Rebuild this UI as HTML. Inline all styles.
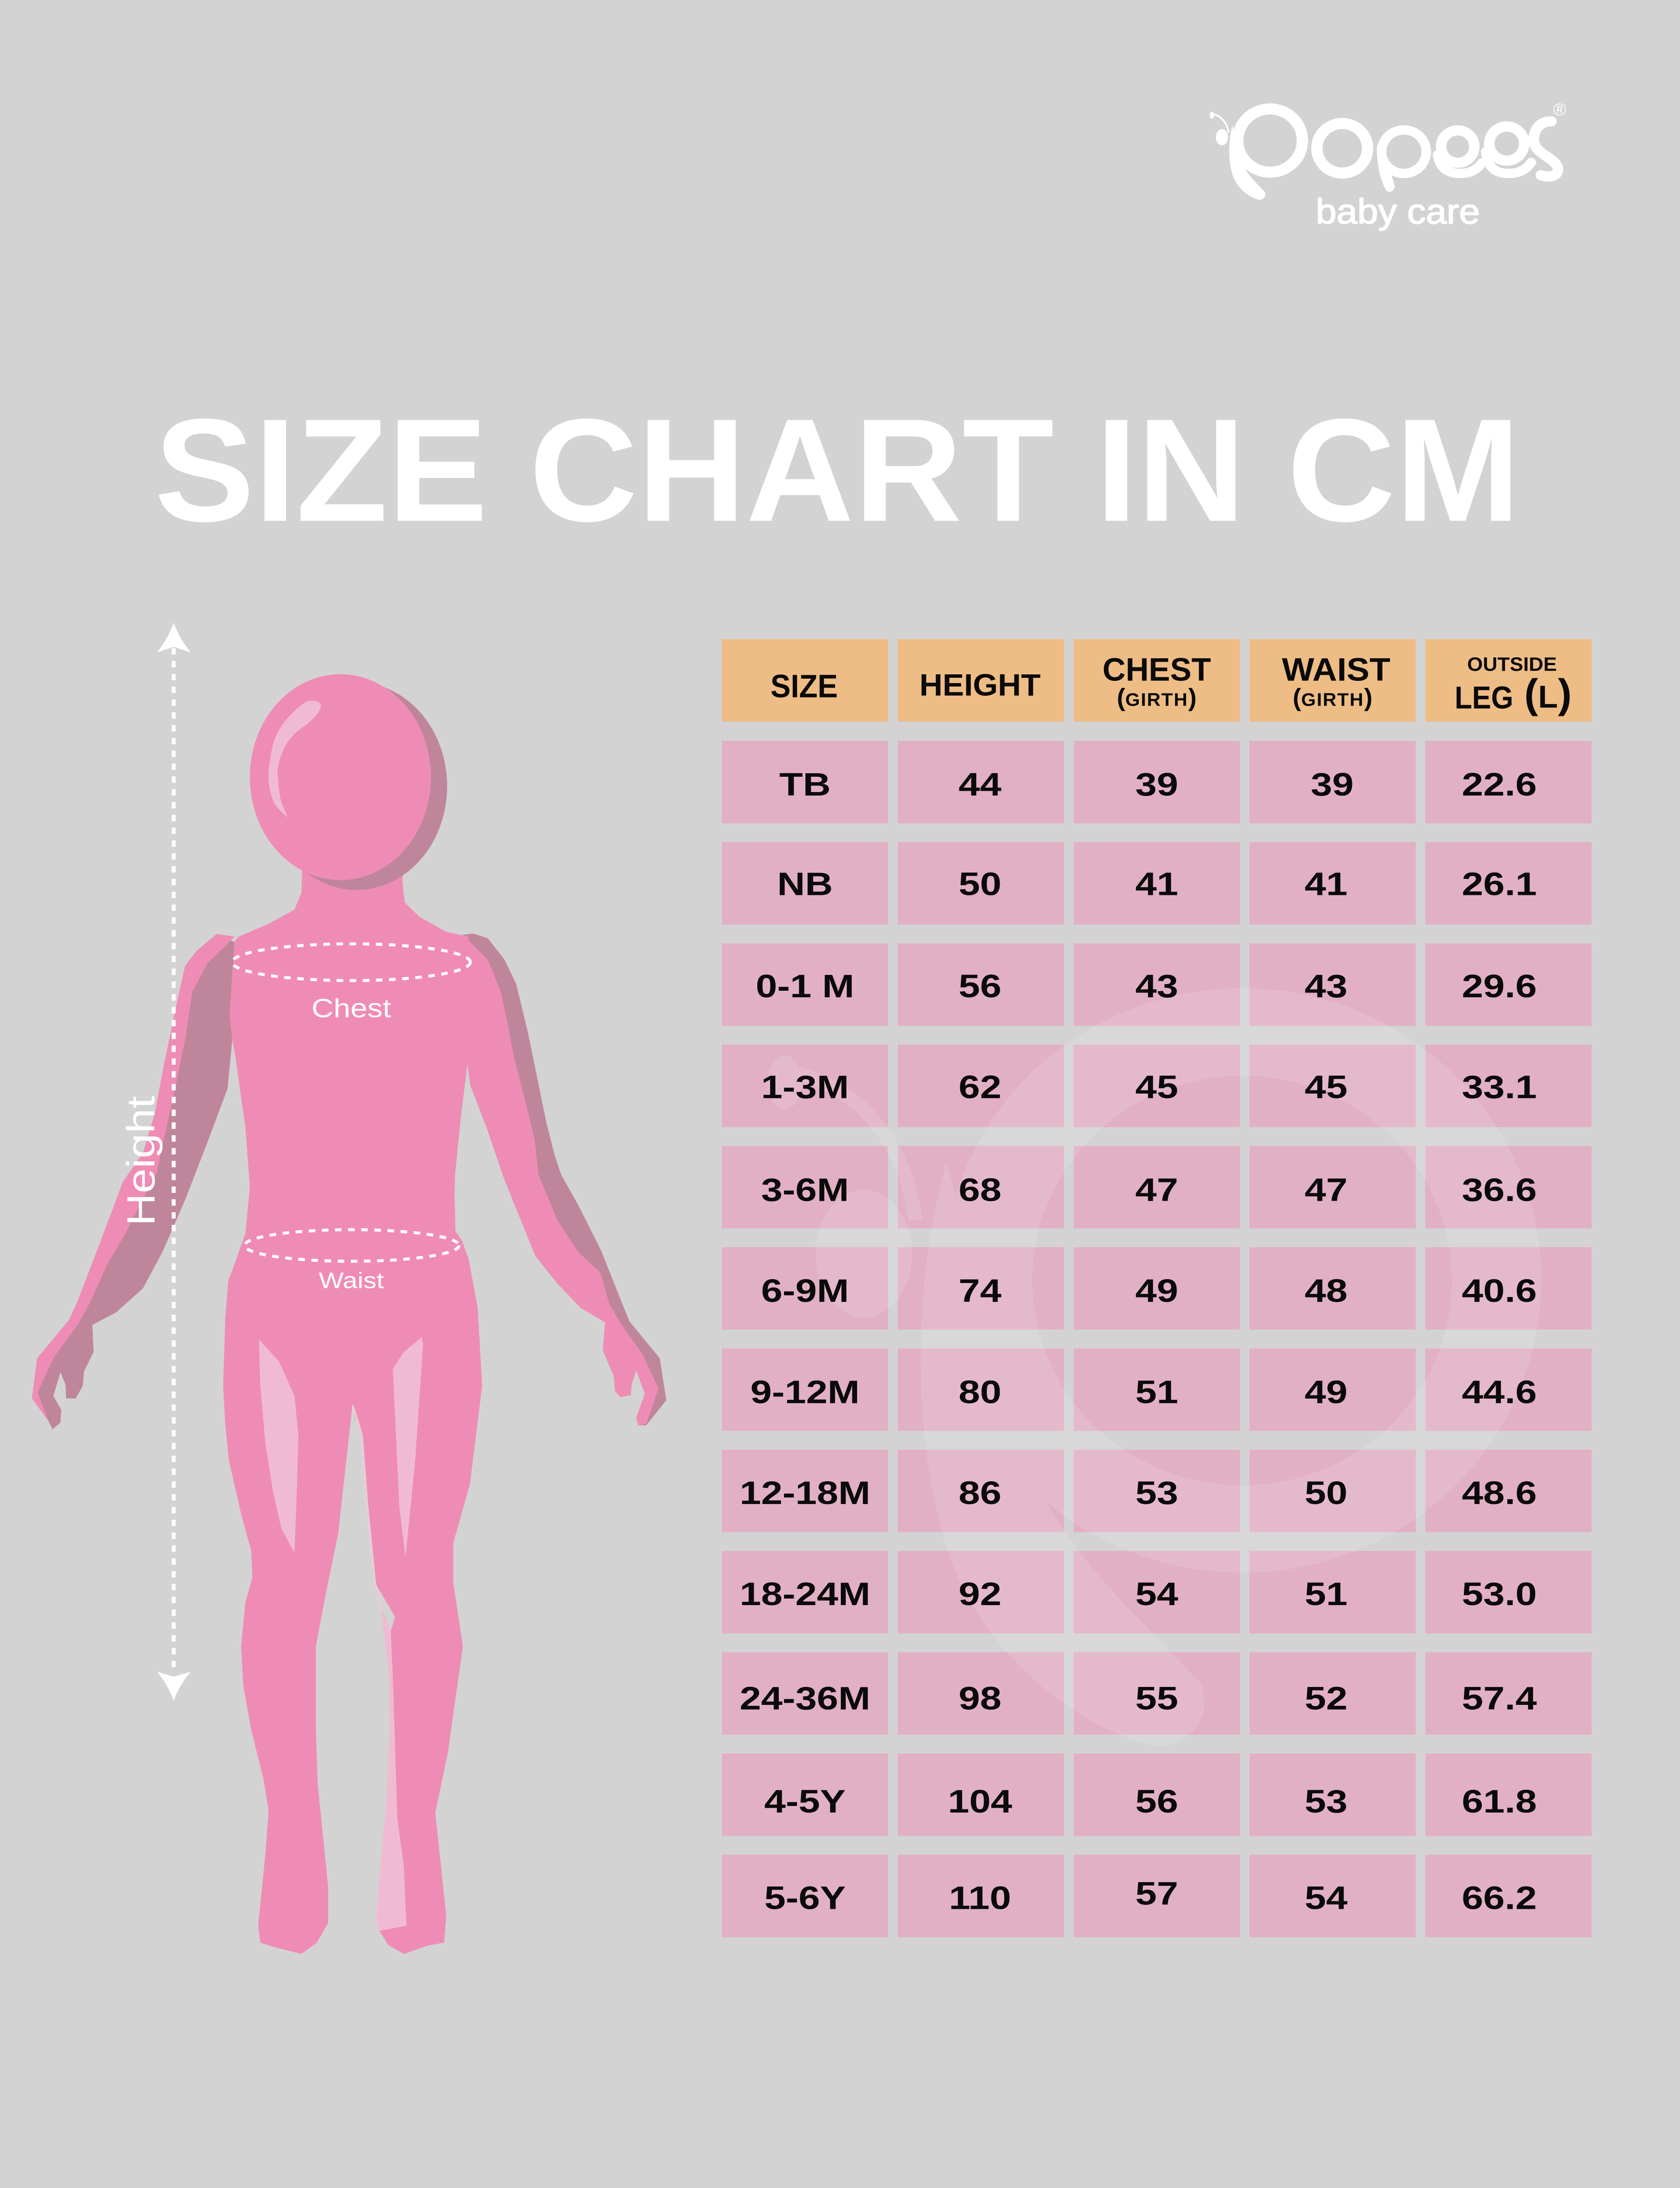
<!DOCTYPE html>
<html><head><meta charset="utf-8"><style>
html,body{margin:0;padding:0;background:#d3d3d3;width:100%;height:100%;overflow:hidden;}
svg{display:block;position:absolute;left:0;top:0;width:100vw;height:100vh;}
text{font-family:"Liberation Sans",sans-serif;}
</style></head><body>
<svg xmlns="http://www.w3.org/2000/svg" viewBox="0 0 3840 5121" preserveAspectRatio="none">
<defs>
<g id="pmark">
<circle cx="0" cy="0" r="74" fill="none" stroke="#fff" stroke-width="26"/>
<path d="M -86,-35 C -96,0 -97,55 -82,90 C -70,115 -48,132 -28,138 C -16,141 -8,130 -12,120 C -30,100 -48,85 -60,60 Z" fill="#fff"/>
<ellipse cx="-110" cy="-8" rx="14" ry="19" fill="#fff"/>
<path d="M -95,-18 C -98,-42 -112,-58 -131,-62" fill="none" stroke="#fff" stroke-width="4"/>
<ellipse cx="-133" cy="-59" rx="5" ry="8" fill="#fff"/>
</g>
</defs>
<rect x="0" y="0" width="3840" height="5121" fill="#d3d3d3"/>

<!-- Logo -->
<use href="#pmark" transform="translate(2903,329)"/>
<circle cx="3068" cy="347" r="58" fill="none" stroke="#fff" stroke-width="26"/>
<circle cx="3209" cy="355" r="51" fill="none" stroke="#fff" stroke-width="22"/>
<path d="M 3147,340 C 3147,390 3155,420 3168,445 C 3172,452 3186,450 3188,437 C 3185,420 3178,405 3175,392 Z" fill="#fff"/>
<circle cx="3332" cy="343" r="38" fill="none" stroke="#fff" stroke-width="24"/>
<path d="M 3286,362 C 3290,395 3312,406 3338,406 C 3362,406 3378,395 3386,382" fill="none" stroke="#fff" stroke-width="22" stroke-linecap="round"/>
<circle cx="3444" cy="336" r="40" fill="none" stroke="#fff" stroke-width="24"/>
<path d="M 3396,355 C 3400,395 3422,406 3448,406 C 3474,406 3490,395 3500,380" fill="none" stroke="#fff" stroke-width="22" stroke-linecap="round"/>
<path d="M 3546,284 C 3515,284 3502,310 3507,335 C 3512,360 3550,368 3560,390 C 3566,410 3545,418 3522,410" fill="none" stroke="#fff" stroke-width="24" stroke-linecap="round"/>
<text x="3565" y="270" font-size="40" fill="#fff" text-anchor="middle">®</text>
<text x="3195" y="523" font-size="82" fill="#fff" stroke="#fff" stroke-width="2" text-anchor="middle" textLength="375" lengthAdjust="spacingAndGlyphs">baby care</text>

<!-- Title -->
<text x="353" y="1219" font-size="343" font-weight="bold" fill="#fff" textLength="3122" lengthAdjust="spacingAndGlyphs">SIZE CHART IN CM</text>

<!-- Table header -->
<g fill="#eebd86">
<rect x="1650" y="1496" width="380" height="193"/>
<rect x="2052" y="1496" width="380" height="193"/>
<rect x="2454" y="1496" width="380" height="193"/>
<rect x="2856" y="1496" width="380" height="193"/>
<rect x="3258" y="1496" width="380" height="193"/>
</g>
<!-- Table body cells -->
<g fill="#e2b0c5">
<rect x="1650" y="1734" width="380" height="193"/><rect x="2052" y="1734" width="380" height="193"/><rect x="2454" y="1734" width="380" height="193"/><rect x="2856" y="1734" width="380" height="193"/><rect x="3258" y="1734" width="380" height="193"/>
<rect x="1650" y="1971" width="380" height="193"/><rect x="2052" y="1971" width="380" height="193"/><rect x="2454" y="1971" width="380" height="193"/><rect x="2856" y="1971" width="380" height="193"/><rect x="3258" y="1971" width="380" height="193"/>
<rect x="1650" y="2208" width="380" height="193"/><rect x="2052" y="2208" width="380" height="193"/><rect x="2454" y="2208" width="380" height="193"/><rect x="2856" y="2208" width="380" height="193"/><rect x="3258" y="2208" width="380" height="193"/>
<rect x="1650" y="2445" width="380" height="193"/><rect x="2052" y="2445" width="380" height="193"/><rect x="2454" y="2445" width="380" height="193"/><rect x="2856" y="2445" width="380" height="193"/><rect x="3258" y="2445" width="380" height="193"/>
<rect x="1650" y="2682" width="380" height="193"/><rect x="2052" y="2682" width="380" height="193"/><rect x="2454" y="2682" width="380" height="193"/><rect x="2856" y="2682" width="380" height="193"/><rect x="3258" y="2682" width="380" height="193"/>
<rect x="1650" y="2919" width="380" height="193"/><rect x="2052" y="2919" width="380" height="193"/><rect x="2454" y="2919" width="380" height="193"/><rect x="2856" y="2919" width="380" height="193"/><rect x="3258" y="2919" width="380" height="193"/>
<rect x="1650" y="3156" width="380" height="193"/><rect x="2052" y="3156" width="380" height="193"/><rect x="2454" y="3156" width="380" height="193"/><rect x="2856" y="3156" width="380" height="193"/><rect x="3258" y="3156" width="380" height="193"/>
<rect x="1650" y="3393" width="380" height="193"/><rect x="2052" y="3393" width="380" height="193"/><rect x="2454" y="3393" width="380" height="193"/><rect x="2856" y="3393" width="380" height="193"/><rect x="3258" y="3393" width="380" height="193"/>
<rect x="1650" y="3630" width="380" height="193"/><rect x="2052" y="3630" width="380" height="193"/><rect x="2454" y="3630" width="380" height="193"/><rect x="2856" y="3630" width="380" height="193"/><rect x="3258" y="3630" width="380" height="193"/>
<rect x="1650" y="3867" width="380" height="193"/><rect x="2052" y="3867" width="380" height="193"/><rect x="2454" y="3867" width="380" height="193"/><rect x="2856" y="3867" width="380" height="193"/><rect x="3258" y="3867" width="380" height="193"/>
<rect x="1650" y="4104" width="380" height="193"/><rect x="2052" y="4104" width="380" height="193"/><rect x="2454" y="4104" width="380" height="193"/><rect x="2856" y="4104" width="380" height="193"/><rect x="3258" y="4104" width="380" height="193"/>
<rect x="1650" y="4341" width="380" height="193"/><rect x="2052" y="4341" width="380" height="193"/><rect x="2454" y="4341" width="380" height="193"/><rect x="2856" y="4341" width="380" height="193"/><rect x="3258" y="4341" width="380" height="193"/>
</g>

<!-- Watermark -->
<g opacity="0.12">
<use href="#pmark" transform="translate(2839,2997) scale(7.86)"/>
</g>

<!-- Header text -->
<g fill="#0a0a0a" font-weight="bold">
<text x="1838" y="1632" font-size="76" text-anchor="middle" textLength="154" lengthAdjust="spacingAndGlyphs">SIZE</text>
<text x="2240" y="1628" font-size="72" text-anchor="middle" textLength="277" lengthAdjust="spacingAndGlyphs">HEIGHT</text>
<text x="2644" y="1593" font-size="76" text-anchor="middle" textLength="248" lengthAdjust="spacingAndGlyphs">CHEST</text>
<text x="2644" y="1652" text-anchor="middle"><tspan font-size="58">(</tspan><tspan font-size="43" letter-spacing="2">GIRTH</tspan><tspan font-size="58">)</tspan></text>
<text x="3054" y="1593" font-size="76" text-anchor="middle" textLength="248" lengthAdjust="spacingAndGlyphs">WAIST</text>
<text x="3046" y="1652" text-anchor="middle"><tspan font-size="58">(</tspan><tspan font-size="43" letter-spacing="2">GIRTH</tspan><tspan font-size="58">)</tspan></text>
<text x="3456" y="1570" font-size="46" text-anchor="middle" textLength="205" lengthAdjust="spacingAndGlyphs">OUTSIDE</text>
<text x="3325" y="1658" font-size="74" textLength="134" lengthAdjust="spacingAndGlyphs">LEG</text>
<text x="3484" y="1656"><tspan font-size="95">(</tspan><tspan font-size="74">L</tspan><tspan font-size="95">)</tspan></text>
</g>

<!-- Body text -->
<g fill="#0a0a0a" font-weight="bold" font-size="76" text-anchor="middle">
<g transform="translate(1840,1862) scale(1.16,1)"><text>TB</text></g>
<g transform="translate(2240,1862) scale(1.16,1)"><text>44</text></g>
<g transform="translate(2644,1862) scale(1.16,1)"><text>39</text></g>
<g transform="translate(3045,1862) scale(1.16,1)"><text>39</text></g>
<g transform="translate(3427,1862) scale(1.16,1)"><text>22.6</text></g>

<g transform="translate(1840,2095) scale(1.16,1)"><text>NB</text></g>
<g transform="translate(2240,2095) scale(1.16,1)"><text>50</text></g>
<g transform="translate(2644,2095) scale(1.16,1)"><text>41</text></g>
<g transform="translate(3031,2095) scale(1.16,1)"><text>41</text></g>
<g transform="translate(3427,2095) scale(1.16,1)"><text>26.1</text></g>

<g transform="translate(1840,2334) scale(1.16,1)"><text>0-1 M</text></g>
<g transform="translate(2240,2334) scale(1.16,1)"><text>56</text></g>
<g transform="translate(2644,2334) scale(1.16,1)"><text>43</text></g>
<g transform="translate(3031,2334) scale(1.16,1)"><text>43</text></g>
<g transform="translate(3427,2334) scale(1.16,1)"><text>29.6</text></g>

<g transform="translate(1840,2570) scale(1.16,1)"><text>1-3M</text></g>
<g transform="translate(2240,2570) scale(1.16,1)"><text>62</text></g>
<g transform="translate(2644,2570) scale(1.16,1)"><text>45</text></g>
<g transform="translate(3031,2570) scale(1.16,1)"><text>45</text></g>
<g transform="translate(3427,2570) scale(1.16,1)"><text>33.1</text></g>

<g transform="translate(1840,2811) scale(1.16,1)"><text>3-6M</text></g>
<g transform="translate(2240,2811) scale(1.16,1)"><text>68</text></g>
<g transform="translate(2644,2811) scale(1.16,1)"><text>47</text></g>
<g transform="translate(3031,2811) scale(1.16,1)"><text>47</text></g>
<g transform="translate(3427,2811) scale(1.16,1)"><text>36.6</text></g>

<g transform="translate(1840,3047) scale(1.16,1)"><text>6-9M</text></g>
<g transform="translate(2240,3047) scale(1.16,1)"><text>74</text></g>
<g transform="translate(2644,3047) scale(1.16,1)"><text>49</text></g>
<g transform="translate(3031,3047) scale(1.16,1)"><text>48</text></g>
<g transform="translate(3427,3047) scale(1.16,1)"><text>40.6</text></g>

<g transform="translate(1840,3284) scale(1.16,1)"><text>9-12M</text></g>
<g transform="translate(2240,3284) scale(1.16,1)"><text>80</text></g>
<g transform="translate(2644,3284) scale(1.16,1)"><text>51</text></g>
<g transform="translate(3031,3284) scale(1.16,1)"><text>49</text></g>
<g transform="translate(3427,3284) scale(1.16,1)"><text>44.6</text></g>

<g transform="translate(1840,3520) scale(1.16,1)"><text>12-18M</text></g>
<g transform="translate(2240,3520) scale(1.16,1)"><text>86</text></g>
<g transform="translate(2644,3520) scale(1.16,1)"><text>53</text></g>
<g transform="translate(3031,3520) scale(1.16,1)"><text>50</text></g>
<g transform="translate(3427,3520) scale(1.16,1)"><text>48.6</text></g>

<g transform="translate(1840,3757) scale(1.16,1)"><text>18-24M</text></g>
<g transform="translate(2240,3757) scale(1.16,1)"><text>92</text></g>
<g transform="translate(2644,3757) scale(1.16,1)"><text>54</text></g>
<g transform="translate(3031,3757) scale(1.16,1)"><text>51</text></g>
<g transform="translate(3427,3757) scale(1.16,1)"><text>53.0</text></g>

<g transform="translate(1840,4001) scale(1.16,1)"><text>24-36M</text></g>
<g transform="translate(2240,4001) scale(1.16,1)"><text>98</text></g>
<g transform="translate(2644,4001) scale(1.16,1)"><text>55</text></g>
<g transform="translate(3031,4001) scale(1.16,1)"><text>52</text></g>
<g transform="translate(3427,4001) scale(1.16,1)"><text>57.4</text></g>

<g transform="translate(1840,4242) scale(1.16,1)"><text>4-5Y</text></g>
<g transform="translate(2240,4242) scale(1.16,1)"><text>104</text></g>
<g transform="translate(2644,4242) scale(1.16,1)"><text>56</text></g>
<g transform="translate(3031,4242) scale(1.16,1)"><text>53</text></g>
<g transform="translate(3427,4242) scale(1.16,1)"><text>61.8</text></g>

<g transform="translate(1840,4468) scale(1.16,1)"><text>5-6Y</text></g>
<g transform="translate(2240,4468) scale(1.16,1)"><text>110</text></g>
<g transform="translate(2644,4458) scale(1.16,1)"><text>57</text></g>
<g transform="translate(3031,4468) scale(1.16,1)"><text>54</text></g>
<g transform="translate(3427,4468) scale(1.16,1)"><text>66.2</text></g>
</g>

<!-- Figure: left arm -->
<path fill="#bf869b" d="M 495,2186 L 449,2226 L 423,2261 L 403,2353 L 374,2496 L 354,2605 L 327,2698 L 281,2766 L 224,2921 L 176,3049 L 158,3089 L 85,3179 L 73,3273 L 110,3325 L 120,3345 L 138,3330 L 140,3300 L 122,3267 L 138,3212 L 150,3241 L 151,3273 L 173,3273 L 189,3244 L 192,3210 L 214,3164 L 211,3101 L 265,3072 L 327,3015 L 372,2929 L 424,2806 L 474,2674 L 520,2548 L 531,2433 L 525,2376 L 536,2205 Z"/>
<path fill="#ef8cb5" d="M 495,2186 L 449,2226 L 423,2261 L 403,2353 L 374,2496 L 354,2605 L 327,2698 L 281,2766 L 224,2921 L 176,3049 L 158,3089 L 85,3179 L 73,3273 L 110,3325 L 86,3259 L 124,3175 L 178,3100 L 205,3050 L 245,2960 L 290,2880 L 330,2800 L 358,2745 L 378,2650 L 400,2548 L 423,2433 L 440,2320 L 474,2255 L 525,2204 L 536,2192 Z"/>
<!-- right arm -->
<path fill="#bf869b" d="M 1057,2188 L 1082,2185 L 1115,2196 L 1153,2246 L 1180,2303 L 1207,2418 L 1230,2533 L 1249,2628 L 1268,2705 L 1283,2750 L 1323,2823 L 1374,2927 L 1423,3053 L 1439,3093 L 1508,3179 L 1523,3277 L 1477,3336 L 1459,3336 L 1454,3319 L 1474,3262 L 1454,3207 L 1444,3239 L 1442,3265 L 1418,3270 L 1406,3256 L 1403,3221 L 1378,3161 L 1383,3095 L 1327,3061 L 1273,3003 L 1224,2940 L 1173,2812 L 1149,2750 L 1115,2647 L 1075,2540 L 1069,2494 L 1069,2410 L 1071,2204 Z"/>
<path fill="#ef8cb5" d="M 1057,2188 L 1074,2204 L 1115,2246 L 1145,2322 L 1161,2399 L 1174,2471 L 1199,2571 L 1222,2667 L 1231,2750 L 1275,2858 L 1323,2932 L 1372,2978 L 1393,3053 L 1420,3100 L 1469,3170 L 1505,3250 L 1477,3333 L 1459,3336 L 1454,3319 L 1474,3262 L 1454,3207 L 1444,3239 L 1442,3265 L 1418,3270 L 1406,3256 L 1403,3221 L 1378,3161 L 1383,3095 L 1327,3061 L 1273,3003 L 1224,2940 L 1173,2812 L 1149,2750 L 1115,2647 L 1075,2540 L 1069,2494 L 1069,2410 L 1071,2204 Z"/>
<!-- torso + legs -->
<path fill="#ef8cb5" d="M 691,2031 L 689,2089 L 673,2129 L 612,2163 L 546,2192 L 536,2204 L 525,2376 L 531,2433 L 538,2473 L 561,2640 L 571,2778 L 561,2887 L 531,2973 L 522,2996 L 515,3084 L 510,3244 L 515,3336 L 523,3417 L 551,3543 L 574,3629 L 577,3692 L 561,3749 L 551,3853 L 556,3945 L 574,4048 L 602,4163 L 614,4237 L 607,4335 L 590,4507 L 595,4547 L 633,4559 L 689,4573 L 724,4547 L 750,4501 L 750,4415 L 726,4174 L 722,4048 L 722,3853 L 742,3744 L 773,3589 L 806,3285 L 811,3319 L 827,3359 L 839,3520 L 857,3704 L 903,3784 L 893,3818 L 898,3933 L 908,4255 L 923,4369 L 929,4507 L 867,4519 L 888,4553 L 923,4573 L 980,4553 L 1015,4547 L 1020,4484 L 995,4243 L 1024,4100 L 1058,3853 L 1036,3704 L 1036,3612 L 1074,3474 L 1102,3244 L 1092,3061 L 1071,2946 L 1056,2904 L 1041,2881 L 1039,2800 L 1040,2750 L 1054,2609 L 1069,2487 L 1071,2204 L 1071,2192 L 1020,2181 L 959,2146 L 925,2112 L 920,2066 L 920,2031 Z"/>
<!-- leg highlights -->
<g fill="#f0bbd2">
<path d="M 592,3135 L 638,3187 L 673,3267 L 682,3359 L 679,3474 L 673,3635 L 643,3577 L 624,3491 L 607,3382 L 595,3244 Z"/>
<path d="M 964,3130 L 967,3147 L 949,3417 L 927,3644 L 913,3531 L 898,3204 L 923,3164 Z"/>
<path d="M 872,3772 L 890,3933 L 891,4048 L 883,4220 L 867,4392 L 860,4496 L 867,4519 L 929,4507 L 923,4369 L 908,4255 L 898,3933 L 893,3818 L 872,3761 Z"/>
</g>
<polyline points="806,3290 827,3359 839,3520 857,3704 872,3772" fill="none" stroke="#e6cdd8" stroke-width="5"/>
<!-- head -->
<ellipse cx="815" cy="1840" rx="207" ry="243" fill="#bf869b"/>
<ellipse cx="778" cy="1819" rx="207" ry="241" fill="#ef8cb5"/>
<path fill="#f0bbd2" d="M 624,1742 C 636,1700 663,1675 663,1675 C 680,1655 700,1641 704,1641 C 720,1638 736,1642 733,1655 C 730,1668 715,1685 694,1701 C 670,1715 653,1744 653,1744 C 640,1770 632,1800 635,1813 C 636,1840 641,1871 641,1871 C 648,1890 658,1913 658,1913 C 640,1900 628,1882 628,1882 C 618,1860 614,1840 614,1819 C 614,1800 616,1780 624,1742 Z"/>

<!-- Measurement marks -->
<ellipse cx="803" cy="2252" rx="272" ry="43" fill="none" stroke="#fff" stroke-width="7" stroke-dasharray="15 15"/>
<ellipse cx="804" cy="2915" rx="245" ry="37" fill="none" stroke="#fff" stroke-width="7" stroke-dasharray="15 15"/>
<text x="803" y="2381" font-size="62" fill="#fff" text-anchor="middle" textLength="182" lengthAdjust="spacingAndGlyphs">Chest</text>
<text x="803" y="3015" font-size="52" fill="#fff" text-anchor="middle" textLength="149" lengthAdjust="spacingAndGlyphs">Waist</text>

<line x1="397" y1="1517" x2="397" y2="3916" stroke="#fff" stroke-width="9" stroke-dasharray="15 15"/>
<path fill="#fff" d="M 397,1457 Q 410,1495 436,1527 L 397,1514 L 359,1527 Q 384,1495 397,1457 Z"/>
<path fill="#fff" d="M 397,3981 Q 410,3943 436,3913 L 397,3924 L 359,3913 Q 384,3943 397,3981 Z"/>
<text transform="translate(353,2717) rotate(-90)" font-size="90" fill="#fff" text-anchor="middle" textLength="304" lengthAdjust="spacingAndGlyphs">Height</text>
</svg>
</body></html>
